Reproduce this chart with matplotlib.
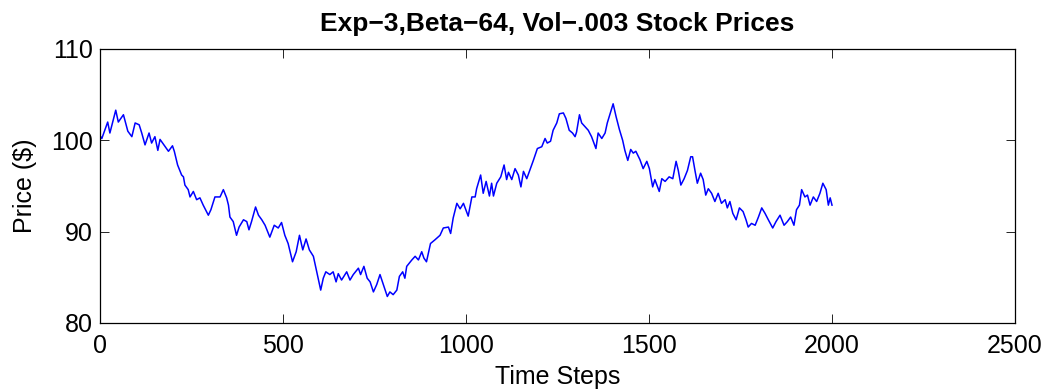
import numpy as np
import matplotlib.pyplot as plt

plt.rcParams['font.family'] = ['Liberation Sans', 'DejaVu Sans']

# price path sampled at the turning points
steps = [0, 5, 21, 27, 43, 50, 64, 76, 87, 96, 107, 114, 123, 134, 141, 150, 158, 164,
         178, 187, 198, 203, 212, 223, 228, 232, 241, 246, 255, 264, 273, 282, 296, 303,
         314, 328, 337, 346, 351, 355, 364, 373, 380, 392, 401, 407, 414, 425, 433, 442,
         451, 464, 476, 487, 496, 505, 514, 526, 536, 545, 554, 563, 572, 583, 590, 603,
         610, 617, 628, 637, 645, 651, 660, 674, 683, 692, 706, 712, 721, 730, 738, 747,
         756, 765, 776, 785, 792, 801, 811, 818, 827, 833, 838, 852, 861, 870, 879, 885,
         892, 903, 915, 929, 938, 952, 958, 965, 975, 984, 993, 1006, 1016, 1025, 1029,
         1040, 1047, 1055, 1064, 1070, 1075, 1084, 1095, 1104, 1111, 1116, 1125, 1134,
         1143, 1150, 1157, 1166, 1175, 1184, 1195, 1207, 1216, 1222, 1231, 1238, 1248,
         1255, 1266, 1273, 1282, 1291, 1298, 1302, 1310, 1316, 1325, 1334, 1343, 1355,
         1361, 1371, 1380, 1386, 1395, 1402, 1410, 1419, 1428, 1434, 1442, 1450, 1457,
         1464, 1475, 1484, 1494, 1501, 1510, 1516, 1528, 1535, 1544, 1555, 1565, 1574,
         1580, 1587, 1596, 1605, 1614, 1619, 1626, 1632, 1641, 1648, 1655, 1662, 1671,
         1680, 1689, 1698, 1708, 1714, 1721, 1729, 1738, 1747, 1757, 1765, 1771, 1780,
         1790, 1799, 1808, 1817, 1826, 1838, 1847, 1858, 1869, 1878, 1887, 1896, 1903,
         1911, 1917, 1926, 1933, 1940, 1949, 1958, 1967, 1975, 1984, 1990, 1995, 2000]
prices = [100.5, 100.2, 102.0, 100.8, 103.3, 102.0, 102.8, 101.0, 100.4, 101.9, 101.7,
          100.8, 99.5, 100.8, 99.7, 100.4, 98.9, 100.1, 99.3, 98.8, 99.4, 98.8, 97.3,
          96.2, 96.0, 95.1, 94.6, 93.8, 94.4, 93.5, 93.7, 92.9, 91.8, 92.4, 93.8, 93.8,
          94.6, 93.7, 92.9, 91.6, 91.1, 89.6, 90.5, 91.3, 91.1, 90.2, 91.1, 92.7, 91.8,
          91.3, 90.7, 89.4, 90.7, 90.4, 91.0, 89.6, 88.7, 86.7, 87.8, 89.6, 88.0, 89.2,
          88.0, 87.3, 86.0, 83.6, 84.9, 85.6, 85.3, 85.6, 84.5, 85.4, 84.7, 85.6, 84.7,
          85.3, 86.0, 85.3, 86.2, 84.9, 84.5, 83.4, 84.2, 85.3, 84.0, 82.9, 83.4, 83.1,
          83.6, 85.1, 85.6, 84.9, 86.2, 86.9, 87.3, 86.9, 87.8, 87.1, 86.7, 88.7, 89.1,
          89.6, 90.4, 90.5, 89.8, 91.5, 93.1, 92.5, 93.1, 91.7, 93.8, 93.8, 94.7, 96.2,
          94.2, 95.5, 93.9, 95.3, 93.9, 95.3, 96.0, 97.3, 95.7, 96.5, 95.7, 96.9, 96.2,
          94.9, 96.6, 95.8, 96.8, 97.8, 99.1, 99.3, 100.2, 99.7, 99.9, 101.1, 101.9,
          102.9, 103.0, 102.4, 101.1, 100.8, 100.4, 100.9, 102.8, 101.9, 101.5, 101.1,
          100.4, 99.1, 100.8, 100.2, 100.8, 101.9, 103.1, 104.0, 102.6, 101.2, 100.0,
          98.9, 97.8, 99.0, 98.6, 98.8, 97.9, 96.9, 97.7, 96.9, 94.9, 95.7, 94.4, 95.8,
          95.5, 96.0, 95.8, 97.7, 96.7, 95.1, 95.8, 96.7, 98.2, 98.2, 96.6, 95.3, 96.4,
          95.7, 94.0, 94.7, 94.2, 93.3, 94.2, 93.1, 93.5, 92.6, 93.3, 92.0, 91.3, 92.6,
          92.2, 91.3, 90.5, 90.9, 90.7, 91.6, 92.6, 92.0, 91.3, 90.4, 91.1, 91.8, 90.7,
          91.1, 91.6, 90.7, 92.4, 92.9, 94.6, 93.8, 94.0, 92.9, 93.8, 93.3, 94.2, 95.3,
          94.6, 92.9, 93.7, 92.9]

xticks = [0, 500, 1000, 1500, 2000, 2500]
yticks = [80, 90, 100, 110]

fig = plt.figure(figsize=(10.45, 3.91), dpi=100)
ax = fig.add_axes([0.0957, 0.174, 0.8756, 0.7007])
ax.plot(steps, prices, color='#0000ff', linewidth=1.1)

ax.set_xlim(0, 2500)
ax.set_ylim(80, 110)
ax.set_xticks(xticks)
ax.set_yticks(yticks)
ax.tick_params(direction='in', length=6.5, width=0.6, labelsize=18,
               top=True, right=True)
ax.tick_params(axis='x', pad=8)
ax.tick_params(axis='y', pad=5)
for sp in ax.spines.values():
    sp.set_linewidth(0.9)

ax.set_xlabel('Time Steps', fontsize=18, labelpad=5)
ax.set_ylabel('Price ($)', fontsize=18, labelpad=10)
ax.set_title('Exp\u22123,Beta\u221264, Vol\u2212.003 Stock Prices',
             fontsize=19, fontweight='bold', pad=13)

fig.savefig('out.png', dpi=100)
